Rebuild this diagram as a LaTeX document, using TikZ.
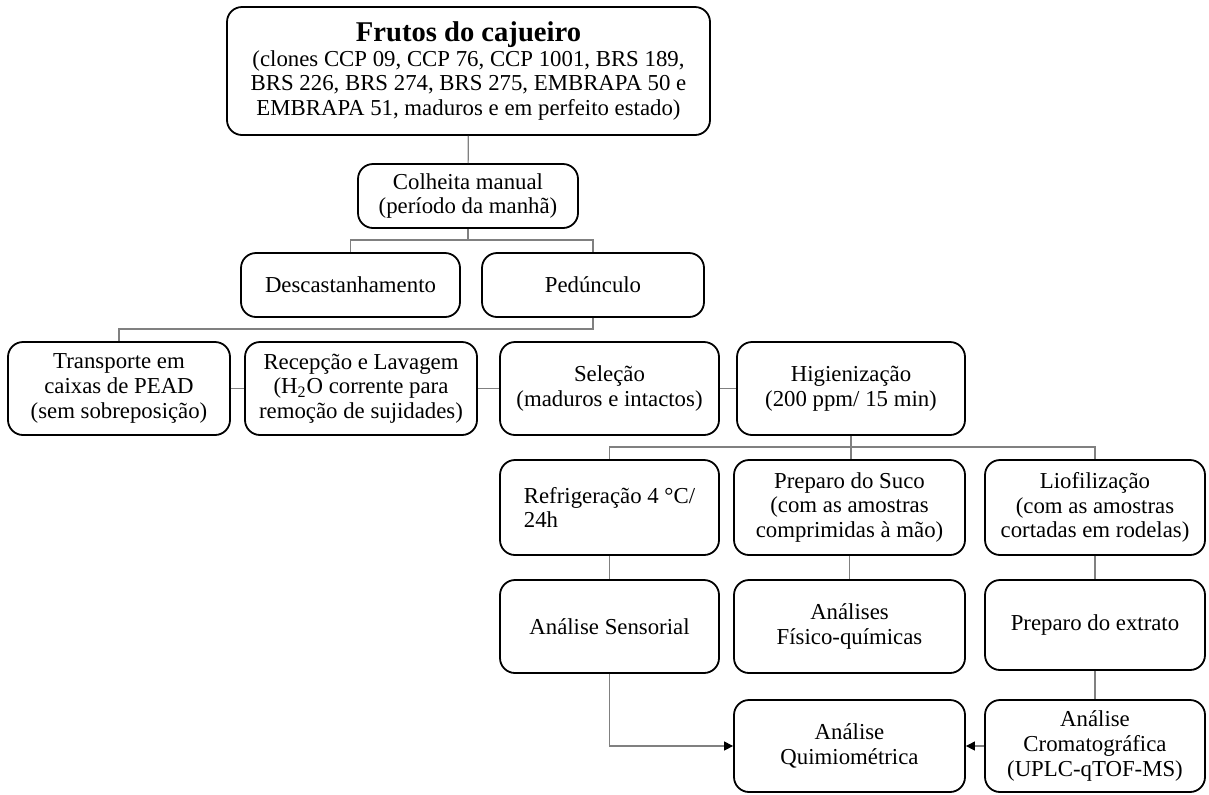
\documentclass[tikz,border=0pt]{standalone}
\usepackage{fontspec}
\setmainfont{Liberation Serif}
\usetikzlibrary{arrows.meta}
\tikzset{
  caixa/.style={draw=black, line width=0.9pt, rounded corners=7.5pt, align=center,
    inner sep=2pt, font=\fontsize{11.4}{12.3}\selectfont},
  linha/.style={draw=gray, line width=0.6pt},
  seta/.style={linha, -{Triangle[length=4.5pt,width=4.5pt,color=black]}}
}
\begin{document}
\begin{tikzpicture}[x=0.5pt, y=-0.5pt]
    \useasboundingbox (0,0) rectangle (1209,794);

    % frutos e colheita
    \node[caixa, minimum width=241.5pt, minimum height=64pt] (titulo) at (468.5,71)
      {{\fontsize{14.3}{16}\selectfont\bfseries Frutos do cajueiro}\\
       (clones CCP 09, CCP 76, CCP 1001, BRS 189,\\
       BRS 226, BRS 274, BRS 275, EMBRAPA 50 e\\
       EMBRAPA 51, maduros e em perfeito estado)};
    \node[caixa, minimum width=110pt, minimum height=32pt] (colheita) at (468,196)
      {Colheita manual\\(período da manhã)};

    % segunda linha
    \node[caixa, minimum width=109.5pt, minimum height=32pt] (desc) at (350.5,285) {Descastanhamento};
    \node[caixa, minimum width=111pt, minimum height=32pt] (ped) at (593,285) {Pedúnculo};

    % terceira linha
    \node[caixa, minimum width=111pt, minimum height=46.5pt] (transp) at (119,388.5)
      {Transporte em\\caixas de PEAD\\(sem sobreposição)};
    \node[caixa, minimum width=116pt, minimum height=46.5pt] (recep) at (361,388.5)
      {Recepção e Lavagem\\(H\textsubscript{2}O corrente para\\remoção de sujidades)};
    \node[caixa, minimum width=109.5pt, minimum height=46.5pt] (selec) at (609.5,388.5)
      {Seleção\\(maduros e intactos)};
    \node[caixa, minimum width=114pt, minimum height=46.5pt] (higien) at (851,388.5)
      {Higienização\\(200 ppm/ 15 min)};

    % quarta linha
    \node[caixa, minimum width=109.5pt, minimum height=47.5pt, align=left] (refrig) at (609.5,507.5)
      {Refrigeração 4 °C/\\24h};
    \node[caixa, minimum width=115.5pt, minimum height=47.5pt] (suco) at (849.5,507.5)
      {Preparo do Suco\\(com as amostras\\comprimidas à mão)};
    \node[caixa, minimum width=110pt, minimum height=47.5pt] (liof) at (1095,507.5)
      {Liofilização\\(com as amostras\\cortadas em rodelas)};

    % analises
    \node[caixa, minimum width=109.5pt, minimum height=46.5pt] (sensorial) at (609.5,626.5) {Análise Sensorial};
    \node[caixa, minimum width=115.5pt, minimum height=46.5pt] (fisico) at (849.5,626.5)
      {Análises\\Físico-químicas};
    \node[caixa, minimum width=110pt, minimum height=45pt] (extrato) at (1095,625) {Preparo do extrato};
    \node[caixa, minimum width=115.5pt, minimum height=46pt] (quimio) at (849.5,746)
      {Análise\\Quimiométrica};
    \node[caixa, minimum width=110pt, minimum height=46pt] (cromato) at (1095,746)
      {Análise\\Cromatográfica\\(UPLC-qTOF-MS)};

    % ligacoes
    \coordinate (r1) at (468,240);
    \coordinate (r2) at (593,329);
    \coordinate (r3) at (851,447);
    \draw[linha] (titulo) -- (colheita);
    \draw[linha] (colheita) -- (r1) -| (desc);
    \draw[linha] (r1) -| (ped);
    \draw[linha] (ped) -- (r2) -| (transp);
    \draw[linha] (transp) -- (recep);
    \draw[linha] (recep) -- (selec);
    \draw[linha] (selec) -- (higien);
    \draw[linha] (higien) -- (r3) -| (refrig);
    \draw[linha] (r3) -| (liof);
    \draw[linha] (r3) -- (r3 |- suco.north);
    \draw[linha] (refrig) -- (sensorial);
    \draw[linha] (suco) -- (fisico);
    \draw[linha] (liof) -- (extrato);
    \draw[linha] (extrato) -- (cromato);

    % setas
    \draw[seta] (sensorial) |- (quimio);
    \draw[seta] (cromato) -- (quimio);
  \end{tikzpicture}
\end{document}
